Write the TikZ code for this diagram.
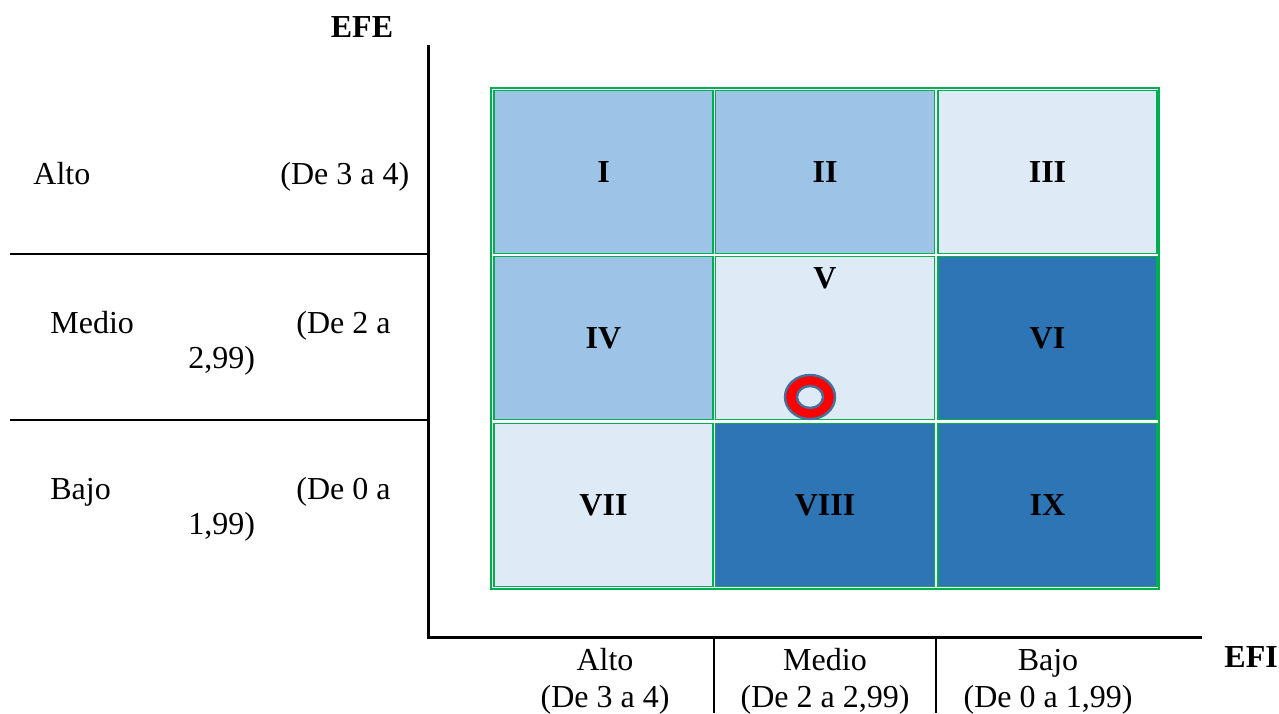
\documentclass[tikz,border=0pt]{standalone}
\usepackage{fontspec}
\setmainfont{Liberation Serif}
\usetikzlibrary{positioning}
\definecolor{cellmid}{RGB}{157,195,230}
\definecolor{celllight}{RGB}{222,235,247}
\definecolor{celldark}{RGB}{46,117,182}
\definecolor{gridgreen}{RGB}{0,176,80}
\definecolor{ringedge}{RGB}{65,113,156}
\newcommand{\mainsize}{\fontsize{16}{19}\selectfont}
\tikzstyle{cell} = [draw=gridgreen, line width=0.8pt, minimum width=109.5pt, minimum height=81.5pt, inner sep=0pt, font=\mainsize\bfseries]
\tikzstyle{axis} = [line width=1.5pt]
\tikzstyle{sep} = [line width=1pt]
\tikzstyle{lbl} = [inner sep=0pt, anchor=base west]
\tikzstyle{tick} = [inner sep=0pt, anchor=base]

\begin{document}
\begin{tikzpicture}[x=0.5pt,y=-0.5pt,font=\mainsize]
\useasboundingbox (0,0) rectangle (1279,713);
% grid of cells
\draw[gridgreen, line width=1pt] (491,88) rectangle (1159,589);
\foreach \name/\cx/\cy/\shade/\txt in {c1/603.5/172/cellmid/I, c2/825/172/cellmid/II, c3/1047.5/172/celllight/III,
  c4/603.5/338/cellmid/IV, c5/825/338/celllight/{}, c6/1047.5/338/celldark/VI,
  c7/603.5/505/celllight/VII, c8/825/505/celldark/VIII, c9/1047.5/505/celldark/IX}
  \node[cell, fill=\shade] (\name) at (\cx,\cy) {\txt};
\node[inner sep=0pt, font=\mainsize\bfseries] (c5txt) at (825,278) {V};
% position marker
\draw[ringedge, fill=red, even odd rule, line width=1.2pt]
  (810,397) ellipse [x radius=12.5pt, y radius=11pt]
  (810,397) ellipse [x radius=6.5pt, y radius=5.5pt];
% axes
\coordinate (efetop) at (428,45);
\coordinate (origin) at (428,637);
\coordinate (efiend) at (1202,637);
\draw[axis] (efetop) -- (origin) -- (efiend);
\node[tick, font=\mainsize\bfseries] (efe) at (362,37) {EFE};
\node[lbl, font=\mainsize\bfseries] (efi) at (1224,667) {EFI};
% left scale
\coordinate (sepa) at (10,254);
\coordinate (sepb) at (10,420);
\draw[sep] (sepa) -- (sepa -| origin);
\draw[sep] (sepb) -- (sepb -| origin);
\node[lbl] (alto) at (33,184) {Alto};
\node[lbl] (altor) at (280,184) {(De 3 a 4)};
\node[lbl] (medio) at (50,333) {Medio};
\node[lbl] (medior) at (296,333) {(De 2 a};
\node[lbl] (mediorb) at (188,368) {2,99)};
\node[lbl] (bajo) at (50,499) {Bajo};
\node[lbl] (bajor) at (296,499) {(De 0 a};
\node[lbl] (bajorb) at (188,534) {1,99)};
% bottom scale
\coordinate (sepc) at (714,637);
\coordinate (sepd) at (936,637);
\draw[sep] (sepc) -- (714,713);
\draw[sep] (sepd) -- (936,713);
\node[tick] (xalto) at (605,670) {Alto};
\node[tick] (xaltor) at (605,707) {(De 3 a 4)};
\node[tick] (xmedio) at (825,670) {Medio};
\node[tick] (xmedior) at (825,707) {(De 2 a 2,99)};
\node[tick] (xbajo) at (1048,670) {Bajo};
\node[tick] (xbajor) at (1048,707) {(De 0 a 1,99)};
\end{tikzpicture}
\end{document}
